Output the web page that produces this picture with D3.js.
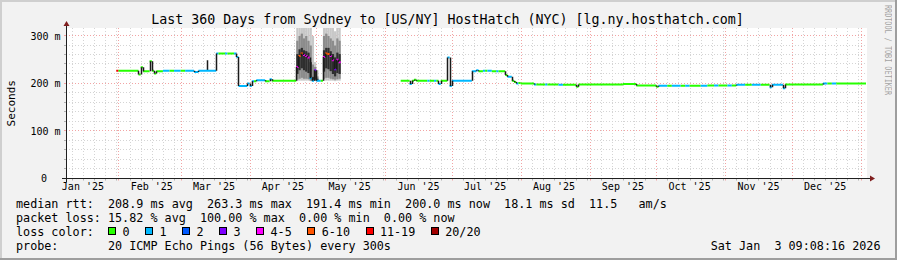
<!DOCTYPE html>
<html><head><meta charset="utf-8">
<script src="https://cdn.jsdelivr.net/npm/d3@7"></script>
<style>
html,body{margin:0;padding:0;background:#f2f2f2;}
svg{display:block;}
text{font-family:"DejaVu Sans Mono",monospace;white-space:pre;}
</style></head><body>
<svg id="chart" width="897" height="260"></svg>
<script>
// ---------------- data ----------------
const titleText = "Last 360 Days from Sydney to [US/NY] HostHatch (NYC) [lg.ny.hosthatch.com]";
const endTime = "2026-01-03T09:08:16Z";
const spanDays = 360;

// median rtt samples (step: value holds until next sample); null = no data
const sampleDates = [
  "2025-01-31","2025-02-01","2025-02-10","2025-02-11","2025-02-12","2025-02-15","2025-02-16","2025-02-17","2025-02-18","2025-02-21",
  "2025-02-24","2025-02-26","2025-03-01","2025-03-03","2025-03-07","2025-03-09","2025-03-17","2025-03-18","2025-03-21","2025-03-22",
  "2025-03-25","2025-03-26","2025-03-27","2025-03-31","2025-04-01","2025-04-02","2025-04-03","2025-04-04","2025-04-08","2025-04-10",
  "2025-04-11","2025-04-22","2025-04-23","2025-04-24","2025-04-25","2025-04-26","2025-04-27","2025-04-28","2025-04-29","2025-04-30",
  "2025-05-01","2025-05-03","2025-05-04","2025-05-05","2025-05-06","2025-05-07","2025-05-08","2025-05-09","2025-05-10","2025-05-11",
  "2025-05-12","2025-06-08","2025-06-12","2025-06-13","2025-06-14","2025-06-15","2025-06-20","2025-06-21","2025-06-23","2025-06-24",
  "2025-06-25","2025-06-26","2025-06-29","2025-06-30","2025-07-01","2025-07-10","2025-07-12","2025-07-13","2025-07-15","2025-07-16",
  "2025-07-17","2025-07-19","2025-07-21","2025-07-22","2025-07-25","2025-07-26","2025-07-28","2025-07-29","2025-07-30","2025-07-31",
  "2025-08-01","2025-08-07","2025-08-08","2025-08-12","2025-08-13","2025-08-18","2025-08-20","2025-08-26","2025-08-27","2025-09-16",
  "2025-09-22","2025-10-01","2025-10-02","2025-10-06","2025-10-08","2025-10-12","2025-10-14","2025-10-16","2025-10-21","2025-10-24",
  "2025-10-27","2025-10-29","2025-11-02","2025-11-04","2025-11-06","2025-11-10","2025-11-13","2025-11-17","2025-11-21","2025-11-22",
  "2025-11-27","2025-11-28","2025-12-15","2025-12-17","2025-12-19","2025-12-21"
];
const medianMs = [
  227,227,219,234,226,247,227,221,226,227,
  227,227,227,227,224,227,263,263,263,263,
  263,256,195,200,195,205,205,207,205,209,
  206,235,258,263,260,258,255,211,206,228,
  206,206,256,263,262,258,249,230,250,245,
  null,206,199,206,208,206,206,206,206,206,
  199,206,255,195,206,226,228,226,227,227,
  227,226,226,226,218,214,206,203,200,201,
  200,198,198,198,198,197.5,197.5,193,198,199,
  196,193,195.5,195.5,195.5,195.5,195.5,195.5,195.5,196,
  196,196,196,196,197.5,197.5,197.5,197.5,192,197.5,
  190,198,200,200,200,200
];
const lossCount = [
  12,0,0,0,0,0,0,0,0,1,
  0,1,0,1,1,1,1,0,1,0,
  1,1,1,1,1,1,0,1,0,1,
  0,5,7,8,5,4,5,1,1,3,
  1,0,5,7,8,5,4,3,5,4,
  null,0,1,0,0,0,1,0,1,0,
  1,0,1,1,1,1,1,0,1,0,
  1,0,1,0,0,1,0,0,1,0,
  0,1,0,1,0,1,0,0,0,0,
  0,0,1,0,1,0,1,0,1,0,
  1,0,1,0,1,0,1,0,1,1,
  1,0,1,0,1,0
];
// single-sample smoke spikes above the median
const spikeDates = ["2025-03-13"];
const spikeHighMs = [249];

// smoke (ping spread) during the unstable period
const stormDates = ["2025-04-22","2025-04-23","2025-04-24","2025-04-25","2025-04-26","2025-04-27","2025-04-28","2025-04-29","2025-04-30","2025-05-01",
                    "2025-05-04","2025-05-05","2025-05-06","2025-05-07","2025-05-08","2025-05-09","2025-05-10","2025-05-11"];
const stormMin = [205,206,206,206,206,206,205,205,205,205, 206,206,206,206,206,205,206,206];
const stormP10 = [208,210,212,210,210,209,206,205,206,205, 210,212,212,210,209,208,209,210];
const stormP25 = [220,228,232,228,225,222,210,206,208,206, 225,232,230,226,220,215,222,220];
const stormP75 = [262,272,275,270,268,265,245,214,228,210, 270,275,275,268,262,255,265,262];
const stormP90 = [290,300,305,295,300,290,280,240,235,215, 300,305,300,295,290,280,295,290];
const stormMax = [330,340,340,335,340,330,325,300,245,228, 340,340,335,330,325,310,330,330];

const yTickValues = [0,100,200,300];
const yTickLabels = ["0","100 m","200 m","300 m"];
const lossLabels = ["0","1","2","3","4-5","6-10","11-19","20/20"];
const lossColors = ["#26ff00","#00b8ff","#0059ff","#7e00ff","#ff00ff","#ff5500","#ff0000","#a10000"];
const lossBreaks = [1,2,3,4,6,11,20];

const legendRows = [
  "median rtt:  208.9 ms avg  263.3 ms max  191.4 ms min  200.0 ms now  18.1 ms sd  11.5   am/s",
  "packet loss: 15.82 % avg  100.00 % max  0.00 % min  0.00 % now",
  "loss color:",
  "probe:       20 ICMP Echo Pings (56 Bytes) every 300s"
];
const dateStamp = "Sat Jan  3 09:08:16 2026";

// ---------------- drawing ----------------
const W = 897, H = 260;
const X0 = 66, X1 = 866, YB = 178.5, YT = 28;
const svg = d3.select("#chart");
const parse = d3.utcParse("%Y-%m-%d");
const tEnd = d3.isoParse(endTime);
const tStart = d3.utcDay.offset(tEnd, -spanDays);

const x = d3.scaleUtc().domain([tStart, tEnd]).range([X0, X1]);
const y = d3.scaleLinear().domain([0, 300]).range([YB, 36]);
const lossColor = d3.scaleThreshold().domain(lossBreaks).range(lossColors);

// background + shading frame
svg.append("rect").attr("width", W).attr("height", H).attr("fill", "#f2f2f2");
svg.append("rect").attr("x",0).attr("y",0).attr("width",W).attr("height",2).attr("fill","#cfcfcf");
svg.append("rect").attr("x",0).attr("y",0).attr("width",2).attr("height",H).attr("fill","#cfcfcf");
svg.append("rect").attr("x",0).attr("y",H-2).attr("width",W).attr("height",2).attr("fill","#9e9e9e");
svg.append("rect").attr("x",W-2).attr("y",0).attr("width",2).attr("height",H).attr("fill","#9e9e9e");

// canvas
svg.append("rect").attr("x", X0).attr("y", YT).attr("width", X1 - X0 + 1).attr("height", YB - YT).attr("fill", "#ffffff");

const px = v => Math.round(v) + 0.5;
const grid = svg.append("g");
const minorCol = "#d4d4d4", majorCol = "#f2a4a4";
const dash = "1,2";

// minor vertical grid
const minorDays = d3.utcDay.every(5).range(tStart, tEnd).filter(d => d.getUTCDate() !== 1);
grid.selectAll(".vmin").data(minorDays).join("line")
  .attr("x1", d => px(x(d))).attr("x2", d => px(x(d)))
  .attr("y1", YT).attr("y2", YB)
  .attr("stroke", minorCol).attr("stroke-dasharray", dash);
// minor horizontal grid
const minorVals = d3.range(20, 320, 20).filter(v => v % 100 !== 0 && y(v) >= YT);
grid.selectAll(".hmin").data(minorVals).join("line")
  .attr("x1", X0).attr("x2", X1 + 1)
  .attr("y1", d => px(y(d)) - 1).attr("y2", d => px(y(d)) - 1)
  .attr("stroke", minorCol).attr("stroke-dasharray", dash);
// major vertical grid
const months = d3.utcMonth.range(tStart, tEnd);
grid.selectAll(".vmaj").data(months).join("line")
  .attr("x1", d => px(x(d))).attr("x2", d => px(x(d)))
  .attr("y1", YT).attr("y2", YB)
  .attr("stroke", majorCol).attr("stroke-dasharray", dash);
// major horizontal grid
grid.selectAll(".hmaj").data(yTickValues.filter(v => v > 0)).join("line")
  .attr("x1", X0).attr("x2", X1 + 1)
  .attr("y1", d => px(y(d)) - 1).attr("y2", d => px(y(d)) - 1)
  .attr("stroke", majorCol).attr("stroke-dasharray", dash);

// ticks on the axes
grid.selectAll(".ty").data(minorVals.concat(yTickValues.filter(v=>v>0))).join("line")
  .attr("x1", X0 - 2).attr("x2", X0)
  .attr("y1", d => px(y(d)) - 1).attr("y2", d => px(y(d)) - 1)
  .attr("stroke", d => d % 100 === 0 ? majorCol : "#b0b0b0");
grid.selectAll(".tx").data(minorDays.concat(months)).join("line")
  .attr("x1", d => px(x(d))).attr("x2", d => px(x(d)))
  .attr("y1", YB).attr("y2", YB + 2)
  .attr("stroke", d => d.getUTCDate() === 1 ? majorCol : "#b0b0b0");

// plot data (clipped)
svg.append("clipPath").attr("id", "clip").append("rect")
  .attr("x", X0).attr("y", YT).attr("width", X1 - X0 + 1).attr("height", YB - YT);
const plot = svg.append("g").attr("clip-path", "url(#clip)");

// smoke
const storm = stormDates.map((d, i) => ({
  t0: parse(d), t1: d3.utcDay.offset(parse(d), 1),
  mn: stormMin[i], p10: stormP10[i], p25: stormP25[i], p75: stormP75[i], p90: stormP90[i], mx: stormMax[i]
}));
const bands = [["mn","mx","#c8c8c8"],["p10","p90","#8c8c8c"],["p25","p75","#2e2e2e"]];
bands.forEach(([lo, hi, col]) => {
  plot.selectAll(null).data(storm).join("rect")
    .attr("x", d => x(d.t0)).attr("width", d => x(d.t1) - x(d.t0))
    .attr("y", d => y(d[hi])).attr("height", d => y(d[lo]) - y(d[hi]))
    .attr("fill", col);
});

// spikes
const sampleTimes = sampleDates.map(parse);
const spikes = spikeDates.map((d, i) => {
  const t = parse(d);
  const idx = d3.bisectRight(sampleTimes, t) - 1;
  return { t: t, hi: spikeHighMs[i], base: medianMs[idx] };
});
plot.selectAll(".spike").data(spikes).join("line")
  .attr("x1", d => px(x(d.t))).attr("x2", d => px(x(d.t)))
  .attr("y1", d => y(d.base)).attr("y2", d => y(d.hi))
  .attr("stroke", "#1a1a1a").attr("stroke-width", 1.5);

// median segments
const samples = sampleDates.map((d, i) => ({
  t0: sampleTimes[i],
  t1: i + 1 < sampleDates.length ? sampleTimes[i + 1] : tEnd,
  v: medianMs[i], loss: lossCount[i], prev: i > 0 ? medianMs[i - 1] : null
}));
plot.selectAll(".med").data(samples.filter(s => s.v !== null)).join("line")
  .attr("x1", d => x(d.t0)).attr("x2", d => x(d.t1))
  .attr("y1", d => y(d.v)).attr("y2", d => y(d.v))
  .attr("stroke", d => lossColor(d.loss)).attr("stroke-width", 2);
// step transitions
plot.selectAll(".step").data(samples.filter(s => s.v !== null && s.prev !== null && Math.abs(s.v - s.prev) >= 1.5)).join("line")
  .attr("x1", d => px(x(d.t0))).attr("x2", d => px(x(d.t0)))
  .attr("y1", d => y(d.prev)).attr("y2", d => y(d.v))
  .attr("stroke", "#1a1a1a").attr("stroke-width", 1.5);

// axes
const axisCol = "#1f1f1f", arrowCol = "#801f1f";
svg.append("line").attr("x1", X0 - 4).attr("x2", X1 + 4).attr("y1", YB).attr("y2", YB).attr("stroke", axisCol);
svg.append("line").attr("x1", X0 + 0.5).attr("x2", X0 + 0.5).attr("y1", YB + 4).attr("y2", YT - 4).attr("stroke", axisCol);
svg.append("path").attr("d", `M${X1+4},${YB-3} L${X1+9},${YB} L${X1+4},${YB+3} Z`).attr("fill", arrowCol);
svg.append("path").attr("d", `M${X0+0.5-3},${YT-2} L${X0+0.5},${YT-7} L${X0+0.5+3},${YT-2} Z`).attr("fill", arrowCol);

// axis labels
const xLabelDates = months.map(m => d3.utcDay.offset(m, 15));
xLabelDates.unshift(d3.utcDay.offset(d3.utcMonth.floor(tStart), 15));
const fmtMonth = d3.utcFormat("%b '%y");
svg.selectAll(".xl").data(xLabelDates.filter(d => d < tEnd)).join("text")
  .attr("x", d => x(d)).attr("y", 190)
  .attr("text-anchor", "middle").attr("font-size", "10px").attr("fill", "#000")
  .text(d => fmtMonth(d));
svg.selectAll(".yl").data(yTickValues).join("text")
  .attr("x", (d, i) => yTickLabels[i].length === 1 ? 47 : 60.5)
  .attr("y", d => y(d) + 3.5)
  .attr("text-anchor", "end").attr("font-size", "10px").attr("fill", "#000")
  .text((d, i) => yTickLabels[i]);
svg.append("text").attr("transform", `translate(14.5,${(YT + YB) / 2}) rotate(-90)`)
  .attr("text-anchor", "middle").attr("font-size", "11px").attr("fill", "#000").text("Seconds");

// title
svg.append("text").attr("x", 447.5).attr("y", 23.5).attr("text-anchor", "middle")
  .attr("font-size", "13.3px").attr("fill", "#000").text(titleText);

// watermark
svg.append("text").attr("transform", "translate(885,5) rotate(90)")
  .attr("font-family", "DejaVu Sans").attr("font-size", "8px").attr("fill", "#000").attr("opacity", 0.35)
  .attr("textLength", 90).attr("lengthAdjust", "spacingAndGlyphs").text("RRDTOOL / TOBI OETIKER");

// legend
const LX = 16, rowY = [207.5, 221.6, 235.5, 249.6], FS = "11.76px", CW = 7.08;
legendRows.forEach((r, i) => {
  svg.append("text").attr("x", LX).attr("y", rowY[i]).attr("font-size", FS).attr("fill", "#000")
    .attr("xml:space", "preserve").text(r);
});
let bx = 108.3;
lossLabels.forEach((lab, i) => {
  svg.append("rect").attr("x", Math.round(bx) + 0.5).attr("y", 227.5).attr("width", 7).attr("height", 7)
    .attr("fill", lossColors[i]).attr("stroke", "#000");
  svg.append("text").attr("x", bx + 14.3).attr("y", rowY[2]).attr("font-size", FS).attr("fill", "#000").text(lab);
  bx += 14.3 + lab.length * CW + 15.6;
});
svg.append("text").attr("x", 880.5).attr("y", rowY[3]).attr("text-anchor", "end")
  .attr("font-size", FS).attr("fill", "#000").attr("xml:space", "preserve").text(dateStamp);
</script>
</body></html>
